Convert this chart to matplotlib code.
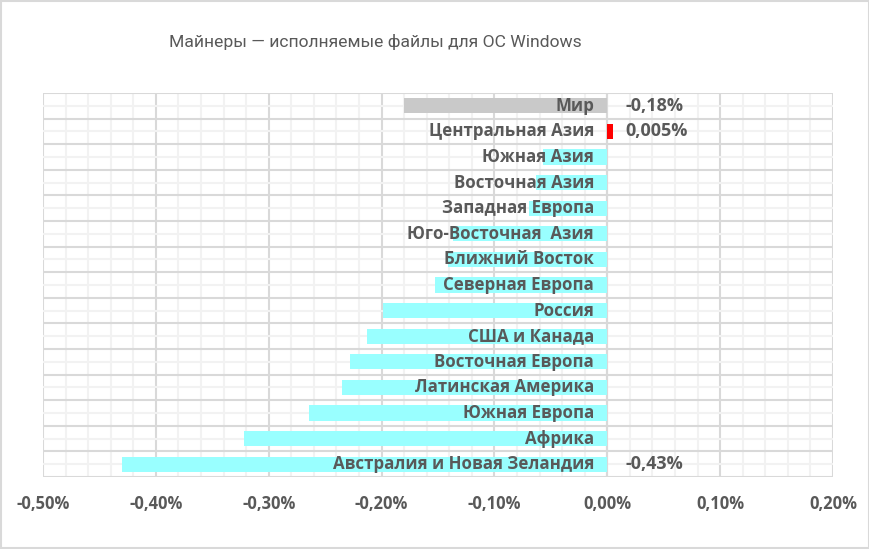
import matplotlib
matplotlib.use("Agg")
import matplotlib.pyplot as plt
from matplotlib.ticker import MultipleLocator, FixedLocator, FuncFormatter

# данные (в процентах)
regions = ["Мир", "Центральная Азия", "Южная Азия", "Восточная Азия",
           "Западная Европа", "Юго-Восточная  Азия", "Ближний Восток",
           "Северная Европа", "Россия", "США и Канада", "Восточная Европа",
           "Латинская Америка", "Южная Европа", "Африка",
           "Австралия и Новая Зеландия"]
values = [-0.18, 0.005, -0.057, -0.063, -0.069, -0.137, -0.141,
          -0.153, -0.199, -0.213, -0.228, -0.235, -0.264, -0.322, -0.430]
value_labels = {0: "-0,18%", 1: "0,005%", 14: "-0,43%"}

gray_text = "#595959"
plt.rcParams['font.family'] = ['Open Sans', 'DejaVu Sans']

fig = plt.figure(figsize=(8.7, 5.49), dpi=100)
ax = fig.add_axes([43/870, 1-477/549, 790/870, 384/549])

colors = []
for i, v in enumerate(values):
    if i == 0:
        colors.append("#C9C9C9")
    elif v > 0:
        colors.append("#FF0000")
    else:
        colors.append("#99FFFF")

pos = list(range(len(regions)))
ax.barh(pos, values, height=0.6, color=colors, zorder=3)

ax.set_xlim(-0.5, 0.2)
ax.set_ylim(len(regions) - 0.5, -0.5)

# сетка
ax.xaxis.set_major_locator(MultipleLocator(0.1))
ax.xaxis.set_minor_locator(MultipleLocator(0.02))
ax.yaxis.set_major_locator(FixedLocator([i + 0.5 for i in range(-1, len(regions))]))
ax.yaxis.set_minor_locator(FixedLocator(pos))
ax.grid(which='major', color="#D9D9D9", linewidth=1.5, zorder=0)
ax.grid(which='minor', color="#F2F2F2", linewidth=1.5, zorder=0)
ax.axvline(0, color="#D9D9D9", linewidth=1.5, zorder=2)
ax.set_axisbelow(True)
for s in ax.spines.values():
    s.set_visible(False)
ax.tick_params(which='both', length=0)
ax.set_yticklabels([])
ax.xaxis.set_major_formatter(FuncFormatter(lambda x, p: ("%.2f%%" % x).replace(".", ",").replace("-0,00", "0,00")))
for lbl in ax.get_xticklabels():
    lbl.set_fontweight('bold')
    lbl.set_color(gray_text)
    lbl.set_fontsize(11.9)
ax.tick_params(axis='x', pad=13)

# подписи категорий и значений
for i, name in enumerate(regions):
    ax.annotate(name, xy=(0, i), xytext=(-9.5, 0), textcoords='offset points',
                ha='right', va='center', fontsize=12.2, fontweight='bold',
                color=gray_text, zorder=4)
for i, txt in value_labels.items():
    ax.annotate(txt, xy=(0, i), xytext=(13, 0), textcoords='offset points',
                ha='left', va='center', fontsize=13, fontweight='bold',
                color=gray_text, zorder=4)

fig.text(375/870, 1-42/549, "Майнеры — исполняемые файлы для ОС Windows",
         ha='center', va='center', fontsize=12.6, color=gray_text,
         family=['Roboto', 'DejaVu Sans'])

# рамка диаграммы
fig.patches.append(plt.Rectangle((0.001, 0.001), 0.998, 0.998, transform=fig.transFigure,
                                 fill=False, edgecolor="#D9D9D9", linewidth=1.5))

fig.savefig("out.png", dpi=100)
